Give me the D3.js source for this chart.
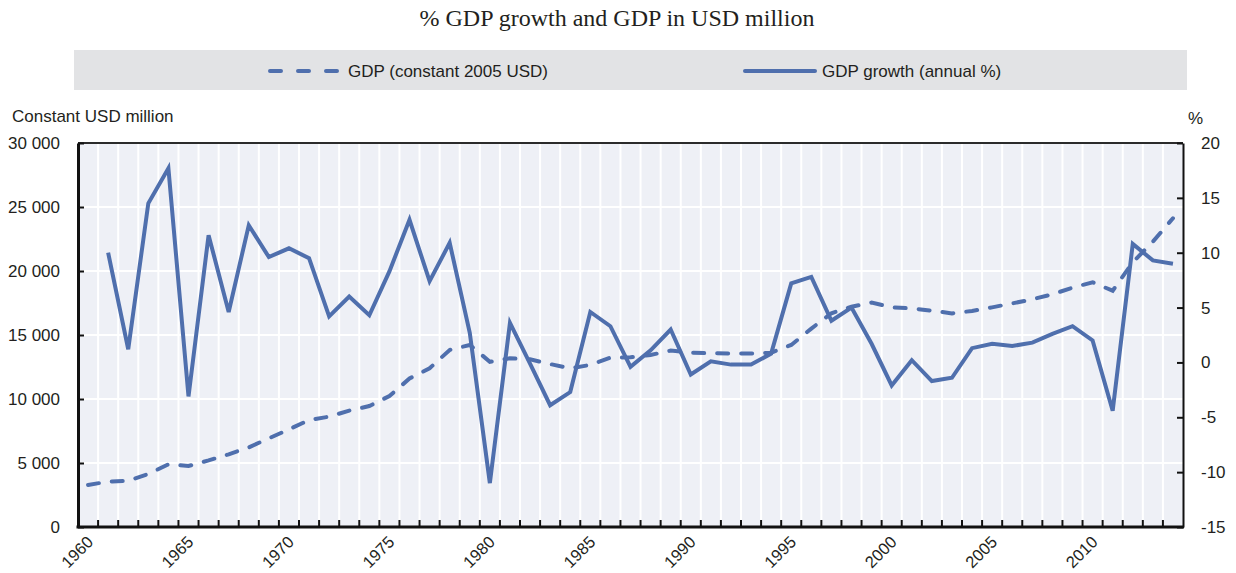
<!DOCTYPE html>
<html>
<head>
<meta charset="utf-8">
<script src="https://cdnjs.cloudflare.com/ajax/libs/d3/7.8.5/d3.min.js"></script>
<style>
  html, body { margin: 0; padding: 0; background: #ffffff; }
  svg { display: block; }
  text { font-family: "Liberation Sans", Arial, sans-serif; fill: #231f20; }
</style>
</head>
<body>
<svg id="chart" width="1236" height="573"></svg>
<script>
// Years on the horizontal axis
const years = [
  1960, 1961, 1962, 1963, 1964, 1965, 1966, 1967, 1968, 1969,
  1970, 1971, 1972, 1973, 1974, 1975, 1976, 1977, 1978, 1979,
  1980, 1981, 1982, 1983, 1984, 1985, 1986, 1987, 1988, 1989,
  1990, 1991, 1992, 1993, 1994, 1995, 1996, 1997, 1998, 1999,
  2000, 2001, 2002, 2003, 2004, 2005, 2006, 2007, 2008, 2009,
  2010, 2011, 2012, 2013, 2014
];

// GDP, constant 2005 USD million (left axis)
const gdpConstant = [
  3280, 3550, 3610, 4140, 4900, 4770, 5200, 5680, 6220, 6930,
  7630, 8360, 8620, 9090, 9450, 10230, 11600, 12400, 13830, 14220,
  12910, 13180, 13100, 12730, 12400, 12660, 13230, 13260, 13440, 13780,
  13620, 13570, 13560, 13560, 13620, 14220, 15500, 16700, 17210, 17530,
  17160, 17080, 16900, 16690, 16880, 17160, 17470, 17790, 18180, 18700,
  19120, 18460, 20680, 22290, 24120
];

// GDP growth, annual % (right axis); no value for the first year
const gdpGrowth = [
  null, 10.0, 1.2, 14.5, 17.7, -3.1, 11.6, 4.6, 12.5, 9.6,
  10.4, 9.5, 4.2, 6.0, 4.3, 8.3, 13.0, 7.4, 10.9, 2.7,
  -11.0, 3.6, -0.1, -3.9, -2.7, 4.6, 3.3, -0.4, 1.1, 3.0,
  -1.1, 0.1, -0.2, -0.2, 0.8, 7.2, 7.8, 3.8, 5.0, 1.7,
  -2.1, 0.2, -1.7, -1.4, 1.3, 1.7, 1.5, 1.8, 2.6, 3.3,
  2.0, -4.4, 10.8, 9.3, 9.0
];

const leftTicks = [0, 5000, 10000, 15000, 20000, 25000, 30000];
const rightTicks = [-15, -10, -5, 0, 5, 10, 15, 20];
const yearLabels = [1960, 1965, 1970, 1975, 1980, 1985, 1990, 1995, 2000, 2005, 2010];

const titleText = "% GDP growth and GDP in USD million";
const legendLabels = ["GDP (constant 2005 USD)", "GDP growth (annual %)"];
const leftAxisTitle = "Constant USD million";
const rightAxisTitle = "%";

const W = 1236, H = 573;
const margin = { top: 143, right: 53, bottom: 46, left: 78 };
const x0 = margin.left, x1 = W - margin.right;
const y0 = margin.top, y1 = H - margin.bottom;

const lineColor = "#4f6fad";
const plotBg = "#eef0f6";

const svg = d3.select("#chart");

const x = d3.scaleBand().domain(years).range([x0, x1]).paddingInner(0).paddingOuter(0);
const cx = d => x(d) + x.bandwidth() / 2;
const yL = d3.scaleLinear().domain([0, 30000]).range([y1, y0]);
const yR = d3.scaleLinear().domain([-15, 20]).range([y1, y0]);

const spaceFmt = d3.formatLocale({ decimal: ".", thousands: " ", grouping: [3], currency: ["", ""] }).format(",");

// Title
svg.append("text")
  .attr("x", W / 2 - 1).attr("y", 26)
  .attr("text-anchor", "middle")
  .style("font-family", "'Liberation Serif', 'Times New Roman', serif")
  .style("font-size", "24px")
  .text(titleText);

// Legend band
const legend = svg.append("g");
legend.append("rect")
  .attr("x", 74).attr("y", 50).attr("width", 1113).attr("height", 40)
  .attr("fill", "#e2e3e5");
legend.append("line")
  .attr("x1", 270).attr("x2", 338).attr("y1", 71).attr("y2", 71)
  .attr("stroke", lineColor).attr("stroke-width", 4)
  .attr("stroke-linecap", "round")
  .attr("stroke-dasharray", "11,17");
legend.append("text")
  .attr("x", 348).attr("y", 77).style("font-size", "17px")
  .text(legendLabels[0]);
legend.append("line")
  .attr("x1", 745).attr("x2", 815).attr("y1", 71).attr("y2", 71)
  .attr("stroke", lineColor).attr("stroke-width", 4)
  .attr("stroke-linecap", "round");
legend.append("text")
  .attr("x", 822).attr("y", 77).style("font-size", "17px")
  .text(legendLabels[1]);

// Axis titles
svg.append("text").attr("x", 12).attr("y", 122).style("font-size", "17px").text(leftAxisTitle);
svg.append("text").attr("x", 1188).attr("y", 124).style("font-size", "17px").text(rightAxisTitle);

// Plot background
svg.append("rect")
  .attr("x", x0).attr("y", y0).attr("width", x1 - x0).attr("height", y1 - y0)
  .attr("fill", plotBg);

// Horizontal gridlines from the left scale
svg.append("g").selectAll("line")
  .data(leftTicks.filter(d => d > 0 && d < 30000))
  .join("line")
  .attr("x1", x0).attr("x2", x1)
  .attr("y1", d => yL(d)).attr("y2", d => yL(d))
  .attr("stroke", "#ffffff").attr("stroke-width", 2);

// Vertical gridlines between years
const boundaries = years.slice(1);
svg.append("g").selectAll("line")
  .data(boundaries)
  .join("line")
  .attr("x1", d => x(d)).attr("x2", d => x(d))
  .attr("y1", y0).attr("y2", y1)
  .attr("stroke", "#ffffff").attr("stroke-width", 2);

// Top frame line
svg.append("line")
  .attr("x1", x0).attr("x2", x1).attr("y1", y0).attr("y2", y0)
  .attr("stroke", "#2b2b2b").attr("stroke-width", 2);

// Left axis
const leftAxis = d3.axisLeft(yL)
  .tickValues(leftTicks)
  .tickSizeInner(-6).tickSizeOuter(0).tickPadding(18)
  .tickFormat(d => spaceFmt(d));
const gL = svg.append("g").attr("transform", `translate(${x0},0)`).call(leftAxis);
gL.select(".domain").attr("stroke", "#111").attr("stroke-width", 3);
gL.selectAll(".tick line").attr("stroke", "#111").attr("stroke-width", 2);
gL.selectAll(".tick text").style("font-size", "17px").style("font-family", "'Liberation Sans', Arial, sans-serif").attr("fill", "#231f20");

// Right axis
const rightAxis = d3.axisRight(yR)
  .tickValues(rightTicks)
  .tickSizeInner(-6).tickSizeOuter(0).tickPadding(18)
  .tickFormat(d => String(d));
const gR = svg.append("g").attr("transform", `translate(${x1},0)`).call(rightAxis);
gR.select(".domain").attr("stroke", "#111").attr("stroke-width", 2);
gR.selectAll(".tick line").attr("stroke", "#111").attr("stroke-width", 2);
gR.selectAll(".tick text").style("font-size", "17px").style("font-family", "'Liberation Sans', Arial, sans-serif").attr("fill", "#231f20");

// Bottom axis: ticks between years, labels every five years
const gB = svg.append("g");
gB.selectAll("line.tk")
  .data(boundaries)
  .join("line").attr("class", "tk")
  .attr("x1", d => x(d)).attr("x2", d => x(d))
  .attr("y1", y1).attr("y2", y1 - 7)
  .attr("stroke", "#111").attr("stroke-width", 2);
gB.append("line")
  .attr("x1", x0 - 1.5).attr("x2", x1 + 1).attr("y1", y1).attr("y2", y1)
  .attr("stroke", "#111").attr("stroke-width", 3);
gB.selectAll("text")
  .data(yearLabels)
  .join("text")
  .attr("transform", d => `translate(${cx(d) + 2},${y1 + 12}) rotate(-45)`)
  .attr("text-anchor", "end")
  .attr("dy", "0.35em")
  .style("font-size", "16.5px")
  .text(d => d);

// GDP level (dashed, left axis)
const gdpLine = d3.line()
  .x((d, i) => cx(years[i]))
  .y(d => yL(d));
svg.append("path")
  .datum(gdpConstant)
  .attr("d", gdpLine)
  .attr("fill", "none")
  .attr("stroke", lineColor).attr("stroke-width", 4)
  .attr("stroke-linecap", "round")
  .attr("stroke-dasharray", "11,13");

// GDP growth (solid, right axis)
const growthLine = d3.line()
  .defined(d => d !== null)
  .x((d, i) => cx(years[i]))
  .y(d => yR(d));
svg.append("path")
  .datum(gdpGrowth)
  .attr("d", growthLine)
  .attr("fill", "none")
  .attr("stroke", lineColor).attr("stroke-width", 4)
  .attr("stroke-linejoin", "miter")
  .attr("stroke-linecap", "butt");
</script>
</body>
</html>
